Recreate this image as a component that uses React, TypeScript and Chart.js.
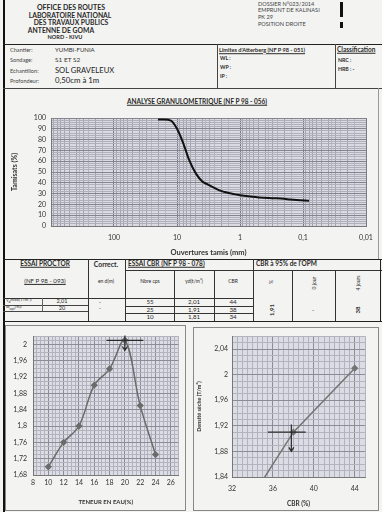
import React, { useEffect, useRef } from 'react';
import { Chart, registerables } from 'chart.js';
Chart.register(...registerables);

const FONT = 'Lato, "Liberation Sans", sans-serif';

// ---------- Granulometric analysis ----------
const sieveSizes = [20, 16, 12.5, 10, 8, 6.3, 5, 4, 3.15, 2.5, 2, 1.25, 1, 0.63, 0.5, 0.315, 0.2, 0.16, 0.125, 0.08];
const passingPercent = [98.5, 98.5, 97.5, 90, 77, 60, 48.5, 41.5, 38, 35, 32.5, 29.5, 28.5, 27, 26.5, 25.8, 25.2, 24.5, 24, 23.4];
const granuloLabelTicks = [100, 10, 1, 0.1, 0.01];
const granuloGridSteps = [1, 1.5, 2, 2.5, 3, 3.5, 4, 5, 6, 7, 8, 9];
const granuloDecades = [-2, -1, 0, 1, 2];

// ---------- Proctor ----------
const proctorWater = [10, 12, 14, 16, 18, 20, 22, 24];
const proctorDensity = [1.70, 1.76, 1.80, 1.90, 1.94, 2.01, 1.85, 1.73];
const opmWater = 20;
const opmDensity = 2.01;

// ---------- CBR ----------
const cbrBlows = ['55', '25', '10'];
const cbrDensityText = ['2,01', '1,91', '1,81'];
const cbrValueText = ['44', '38', '34'];
const cbrDensity = [2.01, 1.91, 1.81];
const cbrValues = [44, 38, 34];
const cbr95Density = 1.91;
const cbr95Value = 38;

const fmt = (v: number) => String(Number(v.toFixed(2))).replace('.', ',');
const range = (a: number, b: number, s: number) => {
  const out: number[] = [];
  for (let i = 0; a + i * s <= b + 1e-9; i++) out.push(Number((a + i * s).toFixed(4)));
  return out;
};

const plotBg = (color: string) => ({
  id: 'plotBg',
  beforeDraw(chart: any) {
    const { ctx, chartArea } = chart;
    ctx.save();
    ctx.fillStyle = color;
    ctx.fillRect(chartArea.left, chartArea.top, chartArea.right - chartArea.left, chartArea.bottom - chartArea.top);
    ctx.restore();
  },
});

function drawArrow(ctx: any, x: number, y1: number, y2: number) {
  ctx.beginPath();
  ctx.moveTo(x, y1);
  ctx.lineTo(x, y2);
  ctx.moveTo(x - 2.5, y2 - 4);
  ctx.lineTo(x, y2);
  ctx.lineTo(x + 2.5, y2 - 4);
  ctx.stroke();
}

const opmMarker = {
  id: 'opmMarker',
  afterDatasetsDraw(chart: any) {
    const { ctx, scales } = chart;
    const x = scales.x, y = scales.y;
    ctx.save();
    ctx.strokeStyle = '#2a2a2a';
    ctx.lineWidth = 1.2;
    const py = y.getPixelForValue(opmDensity);
    ctx.beginPath();
    ctx.moveTo(x.getPixelForValue(opmWater - 2.4), py);
    ctx.lineTo(x.getPixelForValue(opmWater + 2.4), py);
    ctx.stroke();
    drawArrow(ctx, x.getPixelForValue(opmWater), y.getPixelForValue(opmDensity + 0.012), y.getPixelForValue(opmDensity - 0.025));
    ctx.restore();
  },
};

const cbrMarker = {
  id: 'cbrMarker',
  afterDatasetsDraw(chart: any) {
    const { ctx, scales } = chart;
    const x = scales.x, y = scales.y;
    ctx.save();
    ctx.strokeStyle = '#2a2a2a';
    ctx.lineWidth = 1.2;
    const py = y.getPixelForValue(cbr95Density);
    ctx.beginPath();
    ctx.moveTo(x.getPixelForValue(cbr95Value - 2.5), py);
    ctx.lineTo(x.getPixelForValue(cbr95Value + 1.2), py);
    ctx.stroke();
    drawArrow(ctx, x.getPixelForValue(cbr95Value - 0.2), y.getPixelForValue(cbr95Density + 0.012), y.getPixelForValue(cbr95Density - 0.03));
    ctx.restore();
  },
};

const tickFont = { family: FONT, size: 7 };

function granuloConfig(): any {
  const gridValues: number[] = [];
  granuloDecades.forEach((n) => granuloGridSteps.forEach((k) => gridValues.push(k * Math.pow(10, n))));
  gridValues.push(1000);
  const isDecade = (v: number) => Math.abs(Math.log10(v) - Math.round(Math.log10(v))) < 1e-9;
  return {
    type: 'line',
    data: {
      datasets: [{
        data: sieveSizes.map((d, i) => ({ x: d, y: passingPercent[i] })),
        borderColor: '#111',
        borderWidth: 2,
        pointRadius: 0,
        cubicInterpolationMode: 'monotone',
        fill: false,
      }],
    },
    options: {
      responsive: false,
      animation: false,
      events: [],
      plugins: { legend: { display: false }, tooltip: { enabled: false } },
      layout: { padding: { top: 10, right: 14, left: 0, bottom: 0 } },
      scales: {
        x: {
          type: 'logarithmic',
          reverse: true,
          min: 0.01,
          max: 1000,
          afterBuildTicks: (s: any) => { s.ticks = gridValues.map((v) => ({ value: v })); },
          afterFit: (s: any) => { s.height = 32; },
          ticks: {
            autoSkip: false, maxRotation: 0, padding: 8, font: tickFont, color: '#333',
            callback: (v: number) => (isDecade(v) && v <= 100 && granuloLabelTicks.some((t) => Math.abs(t - v) < 1e-9) ? fmt(v) : ''),
          },
          grid: {
            drawTicks: false,
            color: (c: any) => {
              const v = c.tick ? c.tick.value : 1;
              if (isDecade(v)) return '#7a7a86';
              const m = v / Math.pow(10, Math.floor(Math.log10(v) + 1e-9));
              return Math.abs(m - Math.round(m)) < 1e-6 ? '#a2a2ae' : '#b8b8c4';
            },
          },
          border: { display: true, color: '#777' },
          title: { display: true, text: 'Ouvertures tamis (mm)', color: '#333', font: { family: FONT, size: 7.5, weight: 'bold' }, padding: { top: 0, bottom: 0.5 } },
        },
        y: {
          min: 0,
          max: 100,
          afterBuildTicks: (s: any) => { s.ticks = range(0, 100, 2).map((v) => ({ value: v })); },
          afterFit: (s: any) => { s.width = 45; },
          ticks: { autoSkip: false, padding: 5, font: tickFont, color: '#333', callback: (v: number) => (v % 10 === 0 ? String(v) : '') },
          grid: { drawTicks: false, color: (c: any) => (c.tick && c.tick.value % 10 === 0 ? '#84848f' : '#b0b0bc') },
          border: { display: true, color: '#777' },
          title: { display: true, text: 'Tamisats (%)', color: '#333', font: { family: FONT, size: 7, weight: 'bold' }, padding: { top: 5, bottom: 0 } },
        },
      },
    },
    plugins: [plotBg('#dadae3')],
  };
}

function proctorConfig(): any {
  return {
    type: 'line',
    data: {
      datasets: [{
        data: proctorWater.map((w, i) => ({ x: w, y: proctorDensity[i] })),
        borderColor: '#6b6b6b',
        borderWidth: 1.5,
        pointStyle: 'rectRot',
        pointRadius: 2.6,
        pointBackgroundColor: '#6b6b6b',
        pointBorderColor: '#6b6b6b',
        tension: 0.35,
        fill: false,
      }],
    },
    options: {
      responsive: false,
      animation: false,
      events: [],
      plugins: { legend: { display: false }, tooltip: { enabled: false } },
      layout: { padding: { top: 6, right: 4, left: 0, bottom: 0 } },
      scales: {
        x: {
          type: 'linear', min: 8, max: 27,
          afterBuildTicks: (s: any) => { s.ticks = range(8, 27, 0.5).map((v) => ({ value: v })); },
          afterFit: (s: any) => { s.height = 34; },
          ticks: { autoSkip: false, maxRotation: 0, padding: 4, font: tickFont, color: '#333', callback: (v: number) => (v % 2 === 0 ? String(v) : '') },
          grid: { drawTicks: false, color: (c: any) => (c.tick && c.tick.value % 2 === 0 ? '#8c8c98' : '#b3b3bf') },
          border: { display: true, color: '#777' },
          title: { display: true, text: 'TENEUR EN EAU(%)', color: '#333', font: { family: FONT, size: 6, weight: 'bold' }, padding: { top: 0, bottom: 3 } },
        },
        y: {
          min: 1.68, max: 2.02,
          afterBuildTicks: (s: any) => { s.ticks = range(1.68, 2.02, 0.01).map((v) => ({ value: v })); },
          afterFit: (s: any) => { s.width = 27; },
          ticks: { autoSkip: false, padding: 6, font: tickFont, color: '#333', callback: (v: number) => (Math.round(v * 100) % 4 === 0 ? fmt(v) : '') },
          grid: { drawTicks: false, color: (c: any) => (c.tick && Math.round(c.tick.value * 100) % 4 === 0 ? '#8c8c98' : '#b3b3bf') },
          border: { display: true, color: '#777' },
        },
      },
    },
    plugins: [plotBg('#dcdce4'), opmMarker],
  };
}

function cbrConfig(): any {
  return {
    type: 'line',
    data: {
      datasets: [{
        data: cbrValues.map((c, i) => ({ x: c, y: cbrDensity[i] })),
        borderColor: '#747474',
        borderWidth: 1.5,
        pointStyle: 'rectRot',
        pointRadius: 2.6,
        pointBackgroundColor: '#747474',
        pointBorderColor: '#747474',
        fill: false,
      }],
    },
    options: {
      responsive: false,
      animation: false,
      events: [],
      plugins: { legend: { display: false }, tooltip: { enabled: false } },
      layout: { padding: { top: 5, right: 13, left: 0, bottom: 0 } },
      scales: {
        x: {
          type: 'linear', min: 32, max: 45,
          afterBuildTicks: (s: any) => { s.ticks = range(32, 45, 0.5).map((v) => ({ value: v })); },
          afterFit: (s: any) => { s.height = 32; },
          ticks: { autoSkip: false, maxRotation: 0, padding: 8, font: tickFont, color: '#333', callback: (v: number) => (v % 4 === 0 ? String(v) : '') },
          grid: { drawTicks: false, color: (c: any) => (c.tick && c.tick.value % 4 === 0 ? '#8c8c98' : '#b3b3bf') },
          border: { display: true, color: '#777' },
          title: { display: true, text: 'CBR (%)', color: '#333', font: { family: FONT, size: 6.5, weight: 'bold' }, padding: { top: 0, bottom: 1 } },
        },
        y: {
          min: 1.84, max: 2.06,
          afterBuildTicks: (s: any) => { s.ticks = range(1.84, 2.06, 0.01).map((v) => ({ value: v })); },
          afterFit: (s: any) => { s.width = 38; },
          ticks: { autoSkip: false, padding: 4, font: tickFont, color: '#333', callback: (v: number) => (Math.round(v * 100) % 4 === 0 ? fmt(v) : '') },
          grid: { drawTicks: false, color: (c: any) => (c.tick && Math.round(c.tick.value * 100) % 4 === 0 ? '#8c8c98' : '#b3b3bf') },
          border: { display: true, color: '#777' },
          title: { display: true, text: 'Densité sèche (T/m³)', color: '#333', font: { family: FONT, size: 5.5, weight: 'bold' }, padding: { top: 2, bottom: 0 } },
        },
      },
    },
    plugins: [plotBg('#dcdce4'), cbrMarker],
  };
}

function ChartCanvas({ left, top, width, height, make }: any) {
  const ref = useRef<HTMLCanvasElement>(null);
  useEffect(() => {
    const chart = new Chart(ref.current as HTMLCanvasElement, make());
    return () => chart.destroy();
  }, []);
  return <canvas ref={ref} width={width} height={height} style={{ position: 'absolute', left, top, width, height }} />;
}

function T({ x, y, s = 6, w = 400, a = 'left', u = false, r = 0, c = '#2a2a2a', children }: any) {
  const tx = a === 'center' ? '-50%' : a === 'right' ? '-100%' : '0';
  return (
    <div style={{
      position: 'absolute', left: x, top: y, fontSize: s, fontWeight: w, color: c,
      textDecoration: u ? 'underline' : 'none', whiteSpace: 'nowrap', lineHeight: 1,
      transform: `translate(${tx}, -50%)${r ? ` rotate(${r}deg)` : ''}`,
      transformOrigin: a === 'center' ? '50% 50%' : '0 50%',
    }}>{children}</div>
  );
}

const HL = ({ x1, x2, y, c = '#333', w = 1 }: any) => (
  <div style={{ position: 'absolute', left: x1, top: y, width: x2 - x1, height: w, background: c }} />
);
const VL = ({ x, y1, y2, c = '#333', w = 1 }: any) => (
  <div style={{ position: 'absolute', left: x, top: y1, width: w, height: y2 - y1, background: c }} />
);

export default function App() {
  const rowY = [302, 309.5, 316.8];
  return (
    <div style={{ position: 'absolute', left: 0, top: 0, width: 382, height: 512, background: '#f3f3f1', overflow: 'hidden', fontFamily: FONT }}>
      {/* left border */}
      <VL x={2.5} y1={0} y2={512} c="#111" w={2} />

      {/* header left */}
      <T x={71} y={7} s={7} w={700} a="center">OFFICE DES ROUTES</T>
      <T x={70} y={14.6} s={6.8} w={700} a="center">LABORATOIRE NATIONAL</T>
      <T x={71} y={22.2} s={6.8} w={700} a="center">DES TRAVAUX PUBLICS</T>
      <T x={61} y={29.8} s={6.8} w={700} a="center">ANTENNE DE GOMA</T>
      <T x={65} y={37.4} s={5.6} w={700} a="center">NORD - KIVU</T>

      {/* header right */}
      <T x={258} y={4} s={5.6} c="#444">DOSSIER N°023/2014</T>
      <T x={258} y={10.3} s={5.6} c="#444">EMPRUNT DE KALINASI</T>
      <T x={258} y={16.9} s={5.6} c="#444">PK 29</T>
      <T x={258} y={24.3} s={5.6} c="#444">POSITION DROITE</T>
      <VL x={339.5} y1={2} y2={17} c="#111" w={3} />
      <VL x={339.5} y1={21.5} y2={28} c="#111" w={3} />

      {/* info row */}
      <HL x1={3} x2={382} y={44} c="#222" w={1.2} />
      <HL x1={3} x2={382} y={88} c="#444" w={1} />
      <VL x={217} y1={44} y2={88} c="#444" />
      <VL x={335} y1={44} y2={88} c="#444" />
      <T x={10} y={50} s={5.6} c="#444">Chantier:</T>
      <T x={10} y={60} s={5.6} c="#444">Sondage:</T>
      <T x={10} y={70.6} s={5.6} c="#444">Echantillon:</T>
      <T x={10} y={81} s={5.6} c="#444">Profondeur:</T>
      <T x={55} y={50} s={6} c="#333">YUMBI-FUNIA</T>
      <T x={55} y={60} s={6.5} c="#333">S1 ET S2</T>
      <T x={55} y={70.8} s={7.6} c="#222">SOL GRAVELEUX</T>
      <T x={55} y={81.2} s={7.8} c="#222">0,50cm  à 1m</T>
      <T x={219} y={49.5} s={5.6} w={700} u>Limites d'Atterberg (NF P 98 - 051)</T>
      <T x={220} y={59} s={5.2} w={700}>WL  :</T>
      <T x={220} y={68} s={5.2} w={700}>WP :</T>
      <T x={220} y={77} s={5.2} w={700}>IP    :</T>
      <T x={337} y={50} s={6.5} w={700} u>Classification</T>
      <T x={338} y={61} s={5.2} w={700}>NRC :</T>
      <T x={338} y={70} s={5.2} w={700}>HRB : -</T>

      {/* granulo box */}
      <VL x={378} y1={88} y2={259} c="#999" />
      <T x={197} y={102} s={6.5} w={700} a="center" u>ANALYSE GRANULOMETRIQUE (NF P 98 - 056)</T>
      <ChartCanvas left={6} top={108} width={374} height={150} make={granuloConfig} />

      {/* proctor / CBR table */}
      <HL x1={3} x2={382} y={259} c="#222" w={1.2} />
      <HL x1={125} x2={382} y={269.5} c="#333" />
      <HL x1={3} x2={253} y={297.5} c="#333" />
      <HL x1={3} x2={382} y={321} c="#222" w={1.2} />
      <VL x={88} y1={259} y2={321} />
      <VL x={125} y1={259} y2={321} />
      <VL x={174} y1={269.5} y2={321} />
      <VL x={214} y1={269.5} y2={321} />
      <VL x={253} y1={259} y2={321} />
      <VL x={292} y1={269.5} y2={321} />
      <VL x={335} y1={269.5} y2={321} />
      <VL x={380} y1={259} y2={321} c="#222" />

      <T x={45} y={264} s={6.5} w={700} a="center" u>ESSAI PROCTOR</T>
      <T x={106} y={264} s={6.8} w={700} a="center">Correct.</T>
      <T x={128} y={264} s={6.5} w={700} u>ESSAI CBR (NF P 98 - 078)</T>
      <T x={256} y={264} s={6.5} w={700}>CBR à 95% de l'OPM</T>
      <T x={45} y={281} s={6.2} a="center" u>(NF P 98 - 093)</T>
      <T x={106} y={281} s={5} a="center">en d(m)</T>
      <T x={150} y={281} s={5} a="center">Nbre cps</T>
      <T x={194} y={281} s={5} a="center">γd(t/m³)</T>
      <T x={233} y={281} s={5} a="center">CBR</T>
      <T x={271} y={282} s={5} a="center" r={-90}>%</T>
      <T x={314} y={283} s={5} a="center" r={-90}>0 jour</T>
      <T x={358} y={283} s={5} a="center" r={-90}>4 jours</T>

      {/* proctor rows */}
      <HL x1={3} x2={88} y={304.5} c="#444" />
      <HL x1={3} x2={88} y={311} c="#444" />
      <VL x={42} y1={297.5} y2={311} c="#666" />
      <T x={6} y={301} s={4.6} c="#333">γ<sub style={{ fontSize: 3.5 }}>d</sub>max(T/m³):</T>
      <T x={6} y={307.7} s={4.6} c="#333">w<sub style={{ fontSize: 3.5 }}>opt</sub>(%):</T>
      <T x={62} y={301} s={5.6} a="center">{fmt(opmDensity)}</T>
      <T x={62} y={307.7} s={5.6} a="center">{String(opmWater)}</T>
      <T x={100} y={301.5} s={5.6} a="center">-</T>
      <T x={100} y={308} s={5.6} a="center">-</T>

      {/* CBR rows */}
      <HL x1={125} x2={253} y={305.6} c="#333" />
      <HL x1={125} x2={253} y={313.2} c="#333" />
      {cbrBlows.map((b, i) => <T key={'b' + i} x={150} y={rowY[i]} s={6.2} a="center">{b}</T>)}
      {cbrDensityText.map((b, i) => <T key={'d' + i} x={194} y={rowY[i]} s={6.2} a="center">{b}</T>)}
      {cbrValueText.map((b, i) => <T key={'c' + i} x={233} y={rowY[i]} s={6.2} a="center">{b}</T>)}
      <T x={272} y={310} s={6} w={700} a="center" r={-90}>{fmt(cbr95Density)}</T>
      <T x={313} y={310} s={6} a="center">-</T>
      <T x={358} y={310} s={6} w={700} a="center" r={-90}>{String(cbr95Value)}</T>

      {/* chart boxes */}
      <div style={{ position: 'absolute', left: 5, top: 325, width: 179, height: 184, border: '1px solid #888' }} />
      <div style={{ position: 'absolute', left: 193, top: 327, width: 184, height: 182, border: '1px solid #888' }} />
      <ChartCanvas left={6} top={326} width={178} height={183} make={proctorConfig} />
      <ChartCanvas left={194} top={328} width={184} height={181} make={cbrConfig} />
    </div>
  );
}
